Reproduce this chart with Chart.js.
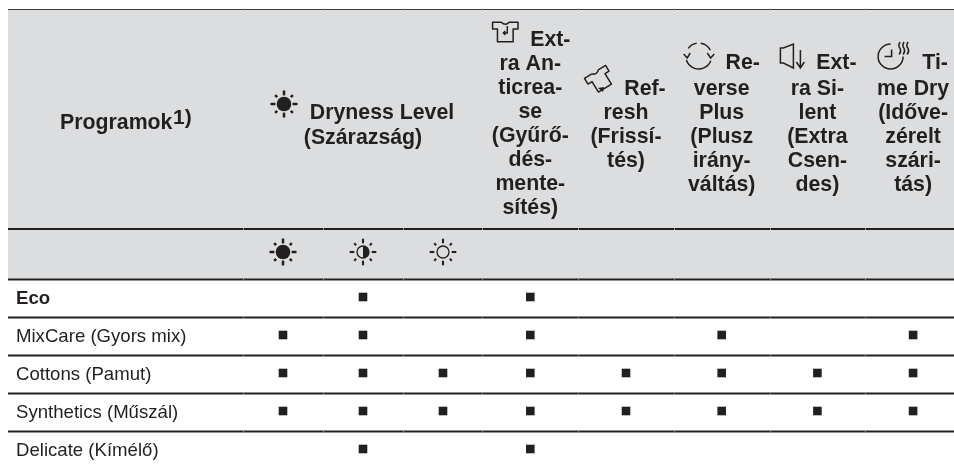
<!DOCTYPE html>
<html><head><meta charset="utf-8">
<style>html,body{margin:0;padding:0;background:#fff}canvas{display:block}#w{position:relative;width:954px;height:465px}</style>
<script src="https://cdn.jsdelivr.net/npm/chart.js@4"></script></head>
<body><div id="w"><canvas id="c"></canvas></div>
<script>
const programs = ['Eco','MixCare (Gyors mix)','Cottons (Pamut)','Synthetics (Műszál)','Delicate (Kímélő)'];
const extraDry    = [0,1,1,1,0];
const normalDry   = [1,1,1,1,1];
const lightDry    = [0,0,1,1,0];
const antiCrease  = [1,1,1,1,1];
const refresh     = [0,0,1,1,0];
const reversePlus = [0,1,1,1,0];
const extraSilent = [0,0,1,1,0];
const timeDry     = [0,1,1,1,0];
const drynessColumns = [extraDry, normalDry, lightDry];
const optionColumns  = [antiCrease, refresh, reversePlus, extraSilent, timeDry];
const programHeader = 'Programok', programNote = '1)';
const drynessHeader = ['Dryness Level','(Szárazság)'];
const optionHeaders = [
  ['Ext-','ra An-','ticrea-','se','(Gyűrő-','dés-','mente-','sítés)'],
  ['Ref-','resh','(Frissí-','tés)'],
  ['Re-','verse','Plus','(Plusz','irány-','váltás)'],
  ['Ext-','ra Si-','lent','(Extra','Csen-','des)'],
  ['Ti-','me Dry','(Idő'+'ve-','zérelt','szári-','tás)']
];

const INK='#231f20', BAND='#dcddde';
const points = (col,i)=>col.flatMap((v,r)=>v?[{x:i,y:r}]:[]);
const style = {pointStyle:'rect',pointRadius:6.1,pointHoverRadius:6.1,pointBackgroundColor:INK,pointBorderWidth:0,showLine:false};
const datasets = [
  ...drynessColumns.map((c,i)=>({data:points(c,i),xAxisID:'xDry',yAxisID:'y',...style})),
  ...optionColumns.map((c,i)=>({data:points(c,i),xAxisID:'xOpt',yAxisID:'y',...style}))
];

function sun(g,x,y,r,inner,outer,w,mode){
  g.save();g.translate(x,y);g.strokeStyle=INK;g.fillStyle=INK;g.lineWidth=w;g.lineCap='butt';
  for(let k=0;k<8;k++){const a=k*Math.PI/4,o=k%2?outer*0.93:outer,n=k%2?inner+1:inner;g.beginPath();g.moveTo(Math.cos(a)*n,Math.sin(a)*n);g.lineTo(Math.cos(a)*o,Math.sin(a)*o);g.stroke();}
  g.lineWidth=1.3;g.beginPath();g.arc(0,0,r,0,Math.PI*2);
  if(mode==='full')g.fill();else g.stroke();
  if(mode==='half'){g.beginPath();g.arc(0,0,r,-Math.PI/2,Math.PI/2);g.closePath();g.fill();}
  g.restore();
}
function shirt(g,x,y,rot,s){
  g.save();g.translate(x,y);g.rotate(rot);g.scale(s,s);g.strokeStyle=INK;g.lineWidth=1.5/s;g.lineJoin='round';
  g.beginPath();
  g.moveTo(-4,-10);g.lineTo(-13,-10);g.lineTo(-13,-3);g.lineTo(-8,-3);g.lineTo(-8,10);g.lineTo(8,10);g.lineTo(8,-3);g.lineTo(13,-3);g.lineTo(13,-10);g.lineTo(4,-10);
  g.quadraticCurveTo(0,-6,-4,-10);g.stroke();
  g.restore();
}
const tableDecor = {
  id:'tableDecor',
  beforeDatasetsDraw(chart){
    const g=chart.ctx,{xDry,xOpt,y}=chart.scales,W=chart.width;
    const L=8;
    const rowEdge=i=>y.getPixelForValue(i-0.5)+1.5;
    const topY=9.5,headY=229,subY=rowEdge(0);
    const rules=[headY,subY,rowEdge(1),rowEdge(2),rowEdge(3),rowEdge(4)];
    g.save();
    g.fillStyle=BAND;g.fillRect(L,topY,W-L,subY-topY);
    g.strokeStyle='#3b3839';g.lineWidth=1.2;g.beginPath();g.moveTo(L,topY);g.lineTo(W,topY);g.stroke();
    g.strokeStyle=INK;g.lineWidth=1.8;
    rules.forEach(v=>{g.beginPath();g.moveTo(L,v);g.lineTo(W,v);g.stroke();});
    const seps=[0,1,2].map(i=>xDry.getPixelForValue(i-0.5)).concat([0,1,2,3,4].map(i=>xOpt.getPixelForValue(i-0.5)));
    g.strokeStyle='#8a8a8c';g.lineWidth=1;
    seps.forEach(sx=>[topY,...rules].forEach(v=>{g.beginPath();g.moveTo(Math.round(sx)+.5,v-1);g.lineTo(Math.round(sx)+.5,v+1);g.stroke();}));

    g.fillStyle=INK;g.textBaseline='middle';
    const bold='bold 21.3px "Liberation Sans"';
    g.font=bold;g.textAlign='left';
    g.fillText(programHeader,60,123);
    g.font='bold 21px "Liberation Sans"';g.fillText(programNote,173,118);
    const gc=xDry.getPixelForValue(1);
    g.font=bold;g.textAlign='center';
    g.fillText(drynessHeader[0],gc+19,113);
    g.fillText(drynessHeader[1],gc,138);
    const first=[40,89,63,63,63], second=[64,113,89,89,89], shift=[20,19,21,19,22];
    optionHeaders.forEach((lines,c)=>{
      const cx=xOpt.getPixelForValue(c);
      lines.forEach((t,i)=>{
        g.fillText(t,cx+(i?0:shift[c]),i?second[c]+24*(i-1):first[c]);
      });
    });
    sun(g,xDry.getPixelForValue(0)+1,104,7.3,8.6,13.5,2.5,'full');
    sun(g,xDry.getPixelForValue(0),252,7.3,8.6,13.5,2.5,'full');
    sun(g,xDry.getPixelForValue(1),252,6,8.7,13.3,2.1,'half');
    sun(g,xDry.getPixelForValue(2),252,6,8.7,13.3,2.1,'empty');
    const px=c=>xOpt.getPixelForValue(c);
    shirt(g,px(0)-25,32,0,0.98);
    g.strokeStyle=INK;g.lineWidth=1.4;g.beginPath();g.moveTo(px(0)-23,26);g.lineTo(px(0)-23,33);g.lineTo(px(0)-27,33);g.moveTo(px(0)-25,31);g.lineTo(px(0)-27,33);g.lineTo(px(0)-25,35);g.stroke();
    const fx=px(1)-26,fy=80;
    shirt(g,fx,fy,-0.55,0.95);
    g.fillStyle=INK;g.beginPath();g.moveTo(fx-2,fy+8);g.lineTo(fx+4,fy+7);g.lineTo(fx+3,fy+12);g.closePath();g.fill();
    g.lineWidth=1.5;const rx=px(2)-23,ry=56;
    g.beginPath();g.arc(rx,ry,13,0.12*Math.PI,0.9*Math.PI);g.stroke();
    g.beginPath();g.arc(rx,ry,13,-0.8*Math.PI,-0.55*Math.PI);g.stroke();
    g.beginPath();g.arc(rx,ry,13,-0.45*Math.PI,-0.15*Math.PI);g.stroke();
    g.beginPath();g.moveTo(rx-15,ry-2);g.lineTo(rx-11.5,ry+2);g.lineTo(rx-8.5,ry-3);g.moveTo(rx+8.5,ry-3);g.lineTo(rx+12,ry+2);g.lineTo(rx+15.5,ry-2);g.stroke();
    const sx=px(3)-37,sy=56;
    g.beginPath();g.moveTo(sx,sy-8);g.lineTo(sx+3,sy-8);g.lineTo(sx+13,sy-12);g.lineTo(sx+13,sy+12);g.lineTo(sx+3,sy+7);g.lineTo(sx,sy+7);g.closePath();g.stroke();
    g.beginPath();g.moveTo(sx+20,sy-6);g.lineTo(sx+20,sy+11);g.moveTo(sx+16,sy+6);g.lineTo(sx+20,sy+12);g.lineTo(sx+24,sy+6);g.stroke();
    const tx=px(4)-22.5,ty=56.5;
    g.beginPath();g.arc(tx,ty,12.5,0,1.5*Math.PI);g.stroke();
    g.beginPath();g.moveTo(tx+1,ty-7);g.lineTo(tx+1,ty);g.lineTo(tx-6,ty);g.stroke();
    g.lineWidth=1.5;
    [9.5,13.5,17.5].forEach(d=>{g.beginPath();g.moveTo(tx+d,ty-14.5);g.quadraticCurveTo(tx+d-2.5,ty-11,tx+d,ty-8);g.quadraticCurveTo(tx+d+1.5,ty-5,tx+d-1,ty-2);g.stroke();});
    g.restore();
  }
};

new Chart(document.getElementById('c'),{
  type:'scatter',
  data:{datasets},
  plugins:[tableDecor],
  options:{
    responsive:true,maintainAspectRatio:false,animation:false,
    layout:{padding:0,autoPadding:false},
    plugins:{legend:{display:false},tooltip:{enabled:false}},
    scales:{
      xDry:{type:'linear',display:false,min:-283/80,max:(954-283)/80},
      xOpt:{type:'linear',display:false,min:-530.3/95.7,max:(954-530.3)/95.7},
      y:{type:'linear',position:'left',reverse:true,min:-297/38,max:(465-297)/38,
        grid:{display:false,drawTicks:false},border:{display:false},
        afterBuildTicks(s){s.ticks=programs.map((_,i)=>({value:i}));},
        afterFit(s){s.width=0;s.paddingTop=0;s.paddingBottom=0;s.paddingLeft=0;s.paddingRight=0;},
        ticks:{mirror:true,padding:16,labelOffset:1.5,autoSkip:false,color:INK,maxRotation:0,
          font:c=>({family:'"Liberation Sans"',size:18.6,weight:c.index===0?'bold':'normal'}),
          callback:v=>programs[v]}
      }
    }
  }
});
</script></body></html>
